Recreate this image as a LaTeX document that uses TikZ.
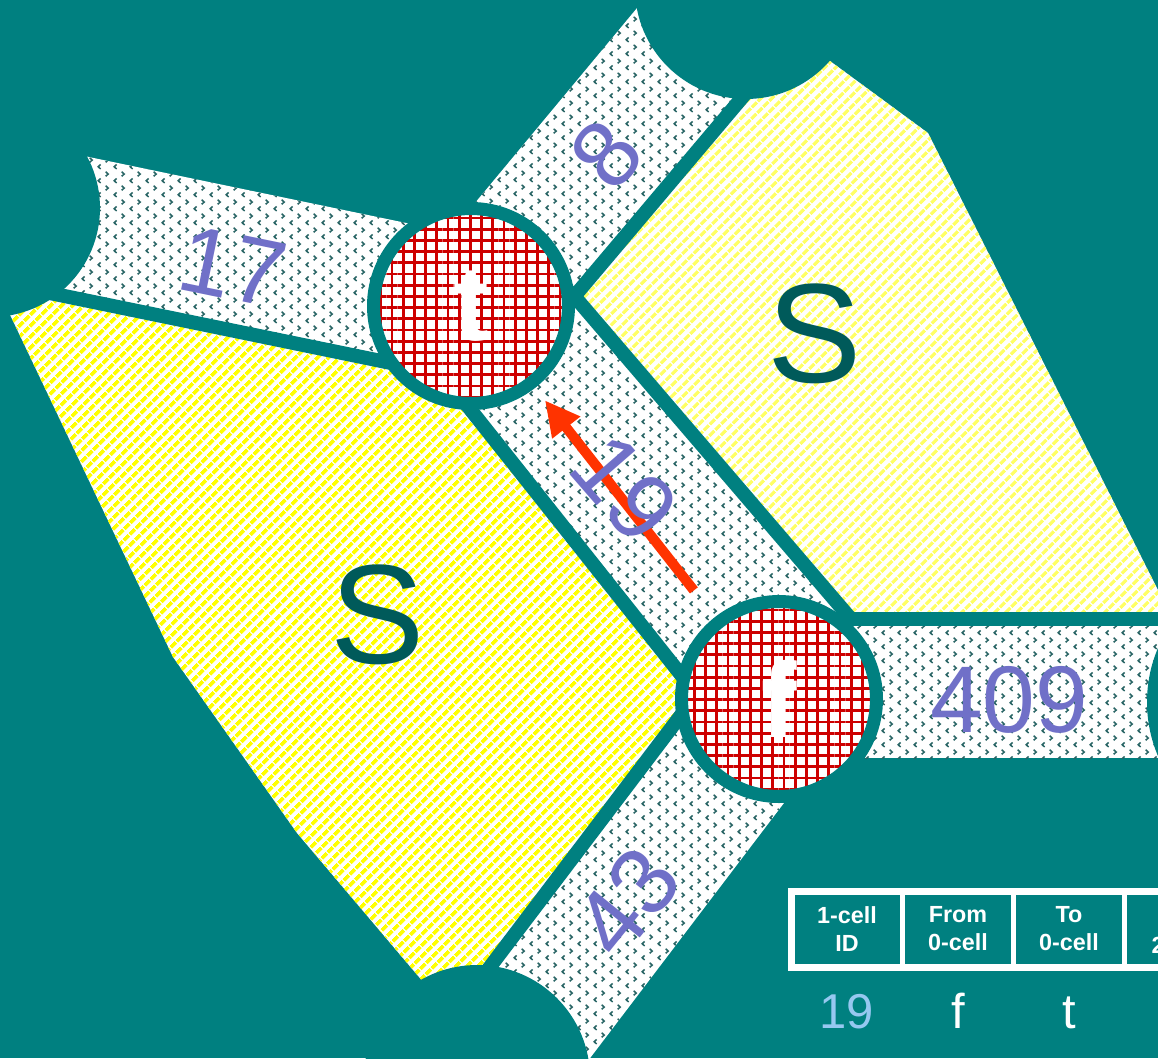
\documentclass[tikz,border=0pt]{standalone}
\usepackage{fontspec}
\setmainfont{Liberation Sans}
\usetikzlibrary{patterns.meta,arrows.meta}

\definecolor{bgteal}{RGB}{0,128,128}
\definecolor{sdark}{RGB}{0,90,90}
\definecolor{markteal}{RGB}{40,100,100}
\definecolor{numblue}{RGB}{112,112,200}
\definecolor{idblue}{RGB}{150,200,240}
\definecolor{gridred}{RGB}{205,0,0}
\definecolor{arrowred}{RGB}{255,51,0}
\definecolor{yellowA}{RGB}{255,255,0}
\definecolor{yellowB}{RGB}{255,255,100}

%small chevrons of the 1-cell strips
\tikzdeclarepattern{
  name=cellmarks,
  type=uncolored,
  bottom left={(0pt,0pt)},
  top right={(12pt,10.6pt)},
  tile size={(12pt,10.6pt)},
  code={
    \tikzset{x=1pt,y=1pt}
    \draw[line width=1.2pt] (3.7,0.8) -- (1.7,2.6) -- (3.7,4.4);
    \draw[line width=1.2pt] (7.7,6.1) -- (9.7,7.9) -- (7.7,9.7);
  }
}

\tikzset{every picture/.style={line width=0.75pt}}
\tikzset{
  hatchA/.style={preaction={fill=white}, pattern color=yellowA, pattern={Lines[angle=45,distance=6.4pt,line width=3.2pt]}},
  hatchB/.style={preaction={fill=white}, pattern color=yellowB, pattern={Lines[angle=45,distance=6.4pt,line width=2.9pt]}},
  strip/.style={preaction={fill=white}, pattern color=markteal, pattern=cellmarks},
  sep/.style={draw=bgteal, line width=10.5pt},
  bite/.style={fill=bgteal},
  vertex/.style={circle, draw=bgteal, line width=9.75pt, minimum size=146.25pt, inner sep=0pt, preaction={fill=white}, pattern color=gridred, pattern={Hatch[distance=8.4pt,line width=2pt]}, text=white, font=\bfseries\fontsize{80}{80}\selectfont},
  flow/.style={draw=arrowred, line width=7.5pt, -{Triangle[width=25pt,length=26pt]}, shorten >=15.75pt, shorten <=25.5pt},
  lbl/.style={text=numblue, inner sep=0pt, font=\fontsize{71}{71}\selectfont},
  face/.style={text=sdark, inner sep=0pt, font=\fontsize{106}{106}\selectfont},
  cellbox/.style={draw=white, line width=3.75pt, minimum width=83.25pt, minimum height=57pt, inner sep=0pt, outer sep=0pt, text=white, align=center, font=\bfseries\fontsize{17.5}{21}\selectfont},
  rowtext/.style={text=white, inner sep=0pt, anchor=base, font=\fontsize{36.7}{36.7}\selectfont}
}

\begin{document}
\begin{tikzpicture}[x=0.75pt,y=0.75pt,yscale=-1,xscale=1]
\path[use as bounding box, clip] (0,0) rectangle (1158,1058);

%Shape: Rectangle [background]
\fill[bgteal] (0,0) rectangle (1158,1058);

%Shape: Polygon [left 2-cell]
\path[hatchA] (3,300) -- (40,291) -- (430,371) -- (447,380) -- (701,700) -- (694,698) -- (480,980) -- (430,990) -- (297,833) -- (173,657) -- cycle;
%Shape: Polygon [right 2-cell]
\path[hatchB] (768,67) -- (830,61) -- (928,133) -- (1170,614) -- (1170,619) -- (851,619) -- (574.6,296.5) -- cycle;

%Shape: Polygon [1-cell strips]
\path[strip] (60,151) -- (440,230) -- (430,371) -- (40,291) -- cycle;
\path[strip] (652,-10) -- (833,-10) -- (567,305) -- (455,227) -- cycle;
\path[strip] (447,380) -- (569,290) -- (851,619) -- (701,700) -- cycle;
\path[strip] (800,619) -- (1170,619) -- (1170,758) -- (800,758) -- cycle;
\path[strip] (694,698) -- (806,774) -- (581,1070) -- (412,1070) -- cycle;

%Straight Lines [borders]
\draw[sep] (40,291) -- (430,371);
\draw[sep] (447,380) -- (701,700);
\draw[sep] (851,619) -- (569,290);
\draw[sep] (567,305) -- (768,67);
\draw[sep] (835,619) -- (1170,619);
\draw[sep] (694,698) -- (480,980);

%Shape: Circle [0-cells out of frame]
\fill[bite] (746,-12) circle (111);
\fill[bite] (-9,208) circle (109);
\fill[bite] (477,1078) circle (113);
\fill[bite] (1285,702) circle (138);

%Shape: Circle [0-cells]
\node[vertex] (t) at (471,306) {t};
\node[vertex] (f) at (779,699) {f};

%Straight Lines [1-cell 19 from f to t]
\draw[flow] (f) -- (t);

% Text Node
\node[lbl, rotate=-11.6] (n17) at (233,267) {17};
% Text Node
\node[lbl, rotate=50] (n8) at (606,154) {8};
% Text Node
\node[lbl, rotate=-49] (n19) at (625,488) {19};
% Text Node
\node[lbl, rotate=51] (n43) at (627,902) {43};
% Text Node
\node[lbl] (n409) at (1009,700) {409};
% Text Node
\node[face] (sleft) at (378,615) {S};
% Text Node
\node[face] (sright) at (815,334) {S};

%Table
\node[cellbox] (c1) at (847,929) {1-cell\\ID};
\node[cellbox] (c2) at (958,929) {From\\0-cell};
\node[cellbox] (c3) at (1069,929) {To\\0-cell};
\node[cellbox] (c4) at (1180,929) {};
\node[text=white, inner sep=0pt, anchor=base west, font=\bfseries\fontsize{17.5}{21}\selectfont] (c4b) at (1151,953) {2};
\draw[white, line width=5.25pt] (c1.north west) rectangle (c4.south east);

% Text Node
\node[rowtext, text=idblue] (r1) at (847,1028) {19};
\node[rowtext] (r2) at (958,1028) {f};
\node[rowtext] (r3) at (1069,1028) {t};

\end{tikzpicture}
\end{document}
